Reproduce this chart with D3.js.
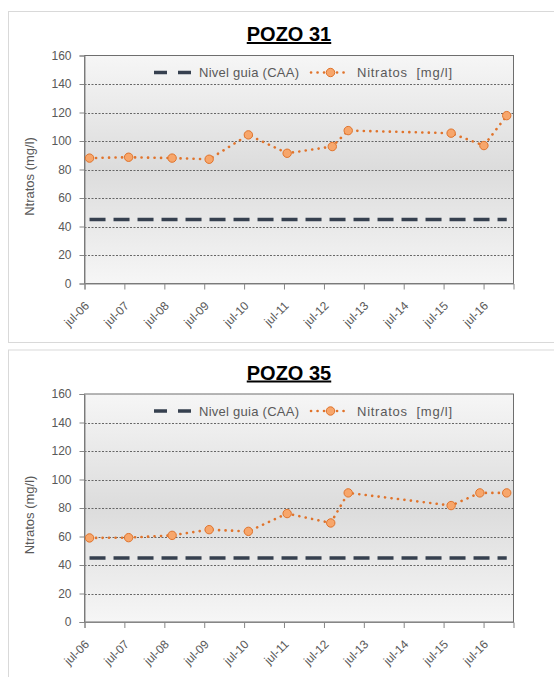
<!DOCTYPE html>
<html>
<head>
<meta charset="utf-8">
<script src="https://cdn.jsdelivr.net/npm/d3@7"></script>
<style>
  body { margin: 0; background: #fff; }
  svg { display: block; font-family: "Liberation Sans", Arial, sans-serif; }
</style>
</head>
<body>
<div id="chart"></div>
<script>
// datos
const pozos = ["POZO 31", "POZO 35"];

const fechas31 = ["2006-08-16", "2007-08-09", "2008-09-10", "2009-08-15", "2010-08-09", "2011-07-30",
                  "2012-09-15", "2013-02-08", "2015-09-08", "2016-07-04", "2017-01-29"];
const nitratos31 = [88, 88.6, 88, 87.2, 104.3, 91.4, 96.1, 107.3, 105.5, 96.8, 117.8];

const fechas35 = ["2006-08-16", "2007-08-09", "2008-09-10", "2009-08-15", "2010-08-09", "2011-07-30",
                  "2012-09-01", "2013-02-08", "2015-09-08", "2016-05-28", "2017-01-29"];
const nitratos35 = [59, 59.2, 60.8, 64.8, 63.6, 76.1, 69.5, 90.6, 81.7, 90.6, 90.6];

const nivelGuia = 45; // CAA
const anosTick = [2006, 2007, 2008, 2009, 2010, 2011, 2012, 2013, 2014, 2015, 2016];
const etiquetasX = ["jul-06", "jul-07", "jul-08", "jul-09", "jul-10", "jul-11", "jul-12", "jul-13", "jul-14", "jul-15", "jul-16"];
const ticksY = [0, 20, 40, 60, 80, 100, 120, 140, 160];
const leyenda = ["Nivel guia (CAA)", "Nitratos  [mg/l]"];
const tituloY = "Ntratos (mg/l)";

const width = 554, height = 677;
const gris = "#595959";
const naranja = "#e0732b";
const relleno = "#f7a66b";
const azul = "#36404f";

const svg = d3.select("#chart").append("svg")
    .attr("width", width)
    .attr("height", height);

// degradado del area de trazado
const grad = svg.append("defs").append("linearGradient")
    .attr("id", "fondo")
    .attr("x1", 0).attr("y1", 0).attr("x2", 0).attr("y2", 1);
grad.append("stop").attr("offset", "0%").attr("stop-color", "#f6f6f6");
grad.append("stop").attr("offset", "50%").attr("stop-color", "#dcdcdc");
grad.append("stop").attr("offset", "100%").attr("stop-color", "#f6f6f6");

const parse = d3.timeParse("%Y-%m-%d");

const drawChart = (oy, titulo, fechas, valores) => {
  const left = 84.5, right = 513.5;
  const top = 55.5 + oy, bottom = 283.5 + oy;

  // marco del grafico
  svg.append("rect")
      .attr("x", 8.5).attr("y", 11.5 + oy)
      .attr("width", 560).attr("height", oy ? 340 : 331)
      .attr("fill", "#fff")
      .attr("stroke", "#d9d9d9");

  const x = d3.scaleTime()
      .domain([new Date(2006, 6, 1), new Date(2017, 3, 1)])
      .range([left, right]);
  const y = d3.scaleLinear()
      .domain([0, 160])
      .range([bottom, top]);

  const g = svg.append("g");

  g.append("rect")
      .attr("x", left).attr("y", top)
      .attr("width", right - left).attr("height", bottom - top)
      .attr("fill", "url(#fondo)");

  // lineas de division
  g.append("g")
    .selectAll("line")
    .data(ticksY.filter(d => d > 0 && d < 160))
    .join("line")
      .attr("x1", left).attr("x2", right)
      .attr("y1", d => Math.round(y(d)) + 0.5).attr("y2", d => Math.round(y(d)) + 0.5)
      .attr("stroke", "#666")
      .attr("stroke-dasharray", "2,1.5");

  g.append("rect")
      .attr("x", left).attr("y", top)
      .attr("width", right - left).attr("height", bottom - top)
      .attr("fill", "none")
      .attr("stroke", "#6e6e6e");

  // eje Y
  const ay = g.append("g")
      .attr("transform", `translate(${left},0)`)
      .call(d3.axisLeft(y).tickValues(ticksY).tickSize(5).tickPadding(8));
  ay.select(".domain").attr("stroke", "#868686");
  ay.selectAll(".tick line").attr("stroke", "#868686");
  ay.selectAll(".tick text")
      .attr("fill", gris)
      .attr("font-size", 12)
      .attr("font-family", "'Liberation Sans', Arial, sans-serif");

  // eje X
  const ax = g.append("g")
      .attr("transform", `translate(0,${bottom})`)
      .call(d3.axisBottom(x)
        .tickValues(anosTick.map(a => new Date(a, 6, 1)))
        .tickFormat((d, i) => etiquetasX[i])
        .tickSize(6));
  ax.select(".domain").attr("stroke", "#868686");
  ax.selectAll(".tick line").attr("stroke", "#868686");
  ax.selectAll(".tick text")
      .attr("fill", gris)
      .attr("font-size", 12)
      .attr("font-family", "'Liberation Sans', Arial, sans-serif")
      .attr("text-anchor", "end")
      .attr("dy", "0.35em")
      .attr("y", 0)
      .attr("transform", "translate(2,20) rotate(-45)");

  // titulo eje Y
  g.append("text")
      .attr("transform", `translate(34,${(top + bottom) / 2 + 7}) rotate(-90)`)
      .attr("text-anchor", "middle")
      .attr("font-size", 13)
      .attr("fill", gris)
      .text(tituloY);

  // titulo
  g.append("text")
      .attr("x", 289).attr("y", 41 + oy)
      .attr("text-anchor", "middle")
      .attr("font-size", 20)
      .attr("font-weight", "bold")
      .attr("text-decoration", "underline")
      .attr("fill", "#000")
      .text(titulo);

  const datos = fechas.map((f, i) => ({ fecha: parse(f), valor: valores[i] }));

  // nivel guia
  g.append("path")
      .datum(datos)
      .attr("fill", "none")
      .attr("stroke", azul)
      .attr("stroke-width", 3.5)
      .attr("stroke-dasharray", "16,8")
      .attr("d", d3.line().x(d => x(d.fecha)).y(() => y(nivelGuia)));

  // nitratos
  g.append("path")
      .datum(datos)
      .attr("fill", "none")
      .attr("stroke", naranja)
      .attr("stroke-width", 2.6)
      .attr("stroke-linecap", "round")
      .attr("stroke-dasharray", "0.1,6.4")
      .attr("d", d3.line().x(d => x(d.fecha)).y(d => y(d.valor)));

  g.append("g")
    .selectAll("circle")
    .data(datos)
    .join("circle")
      .attr("cx", d => x(d.fecha))
      .attr("cy", d => y(d.valor))
      .attr("r", 4.2)
      .attr("fill", relleno)
      .attr("stroke", naranja)
      .attr("stroke-width", 1);

  // leyenda
  const ly = top + 17;
  const lg = g.append("g");
  lg.append("line")
      .attr("x1", 154).attr("x2", 191).attr("y1", ly).attr("y2", ly)
      .attr("stroke", azul).attr("stroke-width", 3.5)
      .attr("stroke-dasharray", "13,11");
  lg.append("text")
      .attr("x", 199).attr("y", ly).attr("dy", "0.35em")
      .attr("font-size", 13).attr("fill", gris)
      .attr("textLength", 100).attr("lengthAdjust", "spacing")
      .text(leyenda[0]);
  lg.append("line")
      .attr("x1", 311).attr("x2", 350).attr("y1", ly).attr("y2", ly)
      .attr("stroke", naranja).attr("stroke-width", 2.6)
      .attr("stroke-linecap", "round")
      .attr("stroke-dasharray", "0.1,6.4");
  lg.append("circle")
      .attr("cx", 330.5).attr("cy", ly).attr("r", 4.2)
      .attr("fill", relleno).attr("stroke", naranja);
  lg.append("text")
      .attr("x", 357).attr("y", ly).attr("dy", "0.35em")
      .attr("font-size", 13).attr("fill", gris)
      .attr("textLength", 95).attr("lengthAdjust", "spacing")
      .attr("xml:space", "preserve")
      .text(leyenda[1]);
};

drawChart(0, pozos[0], fechas31, nitratos31);
drawChart(338.5, pozos[1], fechas35, nitratos35);
</script>
</body>
</html>
